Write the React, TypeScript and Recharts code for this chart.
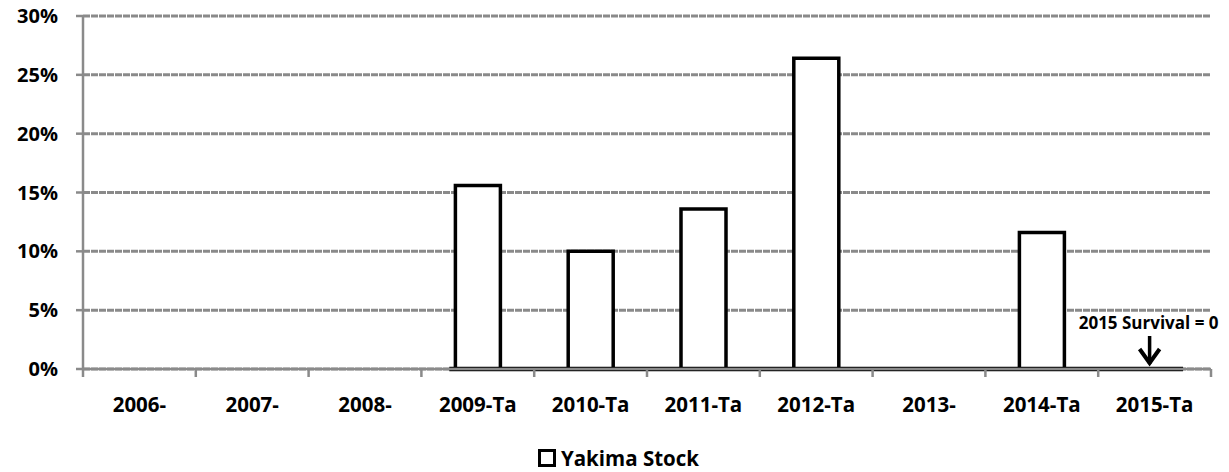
import { BarChart, Bar, XAxis, YAxis, CartesianGrid, Legend, ReferenceLine, ReferenceDot } from 'recharts';

const years = ['2006-', '2007-', '2008-', '2009-Ta', '2010-Ta', '2011-Ta', '2012-Ta', '2013-', '2014-Ta', '2015-Ta'];
const yakima = [null, null, null, 0.156, 0.1, 0.136, 0.264, 0, 0.116, 0];
const yTicks = [0, 0.05, 0.1, 0.15, 0.2, 0.25, 0.3];

const data = years.map((year, i) => ({ year, yakima: yakima[i] }));

const FONT = '"Open Sans", sans-serif';
const GRID = '#8a8a8a';
const BAR_SIZE = 45;

const XTick = (props: any) => {
  const { x, y, payload, index } = props;
  const half = payload?.offset ?? 56;
  return (
    <g>
      <line x1={x - half} x2={x - half} y1={y - 8} y2={y} stroke={GRID} strokeWidth={2.5} />
      {index === years.length - 1 && (
        <line x1={x + half} x2={x + half} y1={y - 8} y2={y} stroke={GRID} strokeWidth={2.5} />
      )}
      <text x={x} y={y + 35} textAnchor="middle" fontFamily={FONT} fontWeight={700} fontSize={20.5} fill="#000">
        {payload.value}
      </text>
    </g>
  );
};

const YTick = (props: any) => {
  const { x, y, payload } = props;
  return (
    <text x={x} y={y + 7} textAnchor="end" fontFamily={FONT} fontWeight={700} fontSize={20} fill="#000">
      {Math.round(payload.value * 100)}%
    </text>
  );
};

const Baseline = (props: any) => {
  const { x1, x2, y1 } = props;
  const ext = BAR_SIZE / 2 + 6;
  return <line x1={x1 - ext} x2={x2 + ext} y1={y1} y2={y1} stroke="#000" strokeWidth={4.5} />;
};

const Arrow = (props: any) => {
  const { cx, cy } = props;
  return (
    <g>
      <text x={cx - 6} y={cy - 40} textAnchor="middle" fontFamily={FONT} fontWeight={700} fontSize={17} fill="#000">
        2015 Survival = 0
      </text>
      <line x1={cx - 5} x2={cx - 5} y1={cy - 33} y2={cy - 5} stroke="#000" strokeWidth={3.5} />
      <polyline points={`${cx - 15},${cy - 20} ${cx - 5},${cy - 6} ${cx + 5},${cy - 20}`} fill="none" stroke="#000" strokeWidth={4} />
    </g>
  );
};

const LegendBox = () => (
  <div style={{ display: 'flex', justifyContent: 'center', alignItems: 'center', fontFamily: FONT, fontWeight: 700, fontSize: 20.5, height: 28, paddingLeft: 26 }}>
    <span style={{ width: 12, height: 12, border: '3px solid #000', background: '#fff', marginRight: 5, display: 'inline-block' }} />
    <span>Yakima Stock</span>
  </div>
);

export default function App() {
  return (
    <div style={{ position: 'absolute', left: 0, top: 0, background: '#fff' }}>
      <BarChart width={1229} height={472} data={data} margin={{ top: 16, right: 18, bottom: 0, left: 0 }}>
        <CartesianGrid vertical={false} stroke={GRID} strokeWidth={3} strokeDasharray="7 1" />
        <XAxis
          dataKey="year"
          stroke={GRID}
          strokeWidth={2.5}
          tickLine={false}
          tick={<XTick />}
          interval={0}
          height={75}
        />
        <YAxis
          domain={[0, 0.3]}
          ticks={yTicks}
          width={83}
          stroke={GRID}
          strokeWidth={2.5}
          tickSize={7}
          tickMargin={18}
          tick={<YTick />}
          tickLine={{ stroke: GRID, strokeWidth: 2.5 }}
        />
        <Legend verticalAlign="bottom" height={28} content={<LegendBox />} />
        <ReferenceLine
          segment={[{ x: '2009-Ta', y: 0 }, { x: '2015-Ta', y: 0 }]}
          shape={<Baseline />}
        />
        <Bar dataKey="yakima" fill="#fff" stroke="#000" strokeWidth={3.5} barSize={BAR_SIZE} isAnimationActive={false} />
        <ReferenceDot x="2015-Ta" y={0} shape={<Arrow />} />
      </BarChart>
    </div>
  );
}
